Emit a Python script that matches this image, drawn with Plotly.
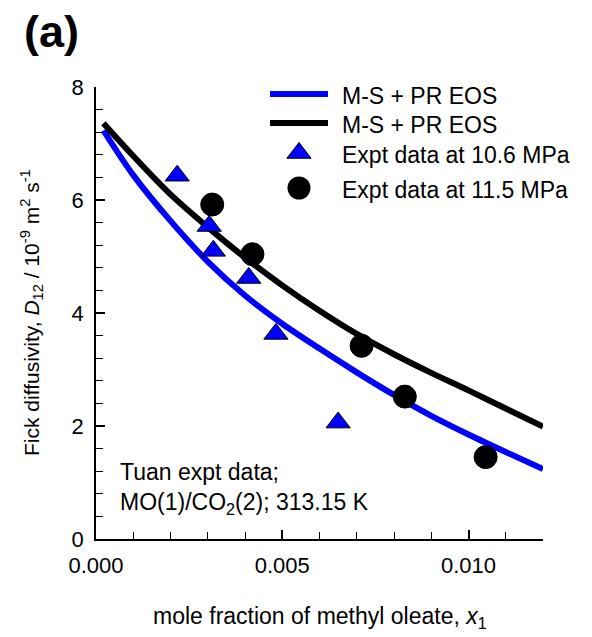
import plotly.graph_objects as go

# Model curves (M-S + PR EOS): mole fraction x1 vs D12 [1e-9 m2/s]
model_x = [0.0002, 0.001, 0.002, 0.003, 0.004, 0.005, 0.006, 0.007,
           0.008, 0.009, 0.010, 0.011, 0.012]
model_106 = [7.23, 6.44, 5.63, 4.91, 4.31, 3.81, 3.37, 2.95,
             2.55, 2.18, 1.85, 1.54, 1.24]
model_115 = [7.36, 6.78, 6.10, 5.52, 4.98, 4.49, 4.04, 3.63,
             3.27, 2.94, 2.63, 2.31, 1.99]

# Tuan experimental data
expt_106_x = [0.00218, 0.00304, 0.00315, 0.00410, 0.00483, 0.00650]
expt_106_y = [6.43, 5.54, 5.10, 4.62, 3.63, 2.06]
expt_115_x = [0.00312, 0.00420, 0.00713, 0.00829, 0.01046]
expt_115_y = [5.92, 5.04, 3.42, 2.52, 1.45]

legend_labels = ["M-S + PR EOS", "M-S + PR EOS",
                 "Expt data at 10.6 MPa", "Expt data at 11.5 MPa"]

x_ticks = [0.000, 0.005, 0.010]
y_ticks = [0, 2, 4, 6, 8]

FONT = "Arial, Liberation Sans, sans-serif"
BLUE = "#0000ff"

W, H = 592, 637
L, R, T, B = 96, 49, 87, 98
PW, PH = W - L - R, H - T - B


def px_x(p):
    return (p - L) / PW


def px_y(p):
    return (H - B - p) / PH


fig = go.Figure()

fig.add_trace(go.Scatter(x=model_x, y=model_106, mode="lines",
                         line=dict(color=BLUE, width=6, shape="spline",
                                   smoothing=0.9),
                         showlegend=False))
fig.add_trace(go.Scatter(x=model_x, y=model_115, mode="lines",
                         line=dict(color="black", width=6, shape="spline",
                                   smoothing=0.9),
                         showlegend=False))
fig.add_trace(go.Scatter(x=expt_106_x, y=expt_106_y, mode="markers",
                         marker=dict(symbol="triangle-up", size=21, color=BLUE,
                                     line=dict(color="black", width=1)),
                         showlegend=False))
fig.add_trace(go.Scatter(x=expt_115_x, y=expt_115_y, mode="markers",
                         marker=dict(symbol="circle", size=23, color="black",
                                     line=dict(color="black", width=1)),
                         showlegend=False))

# Legend drawn on a hidden overlay axis spanning the plot area
leg_rows = [94, 123, 153, 188]
lx0, lx1, lxm, ltext = px_x(270), px_x(328), px_x(299), px_x(340)
fig.add_trace(go.Scatter(x=[lx0, lx1], y=[px_y(leg_rows[0])] * 2, mode="lines",
                         line=dict(color=BLUE, width=6), xaxis="x2", yaxis="y2",
                         showlegend=False))
fig.add_trace(go.Scatter(x=[lx0, lx1], y=[px_y(leg_rows[1])] * 2, mode="lines",
                         line=dict(color="black", width=6), xaxis="x2", yaxis="y2",
                         showlegend=False))
fig.add_trace(go.Scatter(x=[lxm], y=[px_y(leg_rows[2])], mode="markers",
                         marker=dict(symbol="triangle-up", size=21, color=BLUE,
                                     line=dict(color="black", width=1)),
                         xaxis="x2", yaxis="y2", showlegend=False))
fig.add_trace(go.Scatter(x=[lxm], y=[px_y(leg_rows[3])], mode="markers",
                         marker=dict(symbol="circle", size=23, color="black"),
                         xaxis="x2", yaxis="y2", showlegend=False))

annotations = []
for row, label in zip(leg_rows, legend_labels):
    annotations.append(dict(x=ltext, y=px_y(row + 2), xref="paper", yref="paper",
                            text=label, showarrow=False, xanchor="left",
                            yanchor="middle", font=dict(size=23, color="black")))

annotations += [
    dict(x=px_x(118), y=px_y(457), xref="paper", yref="paper",
         text="Tuan expt data;<br>MO(1)/CO<sub>2</sub>(2); 313.15 K",
         showarrow=False, xanchor="left", yanchor="top", align="left",
         font=dict(size=23, color="black")),
    dict(x=px_x(320), y=px_y(617), xref="paper", yref="paper",
         text="mole fraction of methyl oleate, <i>x</i><sub>1</sub>",
         showarrow=False, xanchor="center", yanchor="middle",
         font=dict(size=23, color="black")),
    dict(x=px_x(31), y=px_y(313), xref="paper", yref="paper",
         text="Fick diffusivity, <i>D</i><sub>12</sub> / 10<sup>-9</sup> m<sup>2</sup> s<sup>-1</sup>",
         showarrow=False, textangle=-90, xanchor="center", yanchor="middle",
         font=dict(size=21, color="black")),
    dict(x=px_x(51), y=px_y(31), xref="paper", yref="paper",
         text="<b>(a)</b>", showarrow=False, xanchor="center", yanchor="middle",
         font=dict(size=45, color="black")),
]

axis_common = dict(showline=True, linecolor="black", linewidth=1.5,
                   ticks="inside", ticklen=9, tickwidth=1.5, tickcolor="black",
                   showgrid=False, zeroline=False, mirror=False,
                   tickfont=dict(size=22, color="black", family=FONT))

fig.update_layout(
    width=W, height=H,
    margin=dict(l=L, r=R, t=T, b=B, autoexpand=False),
    paper_bgcolor="white", plot_bgcolor="white",
    font=dict(family=FONT, color="black"),
    showlegend=False,
    xaxis=dict(range=[0, 0.012], tickvals=x_ticks, tickformat=".3f",
               minor=dict(dtick=0.001, ticks="inside", ticklen=7,
                          tickwidth=1.2, tickcolor="black"),
               ticklabelstandoff=6, **axis_common),
    yaxis=dict(range=[0, 8], tickvals=y_ticks,
               minor=dict(dtick=0.4, ticks="inside", ticklen=7,
                          tickwidth=1.2, tickcolor="black"),
               ticklabelstandoff=6, **axis_common),
    xaxis2=dict(range=[0, 1], overlaying="x", visible=False),
    yaxis2=dict(range=[0, 1], overlaying="y", visible=False),
    annotations=annotations,
)

fig.write_html("out.html")
